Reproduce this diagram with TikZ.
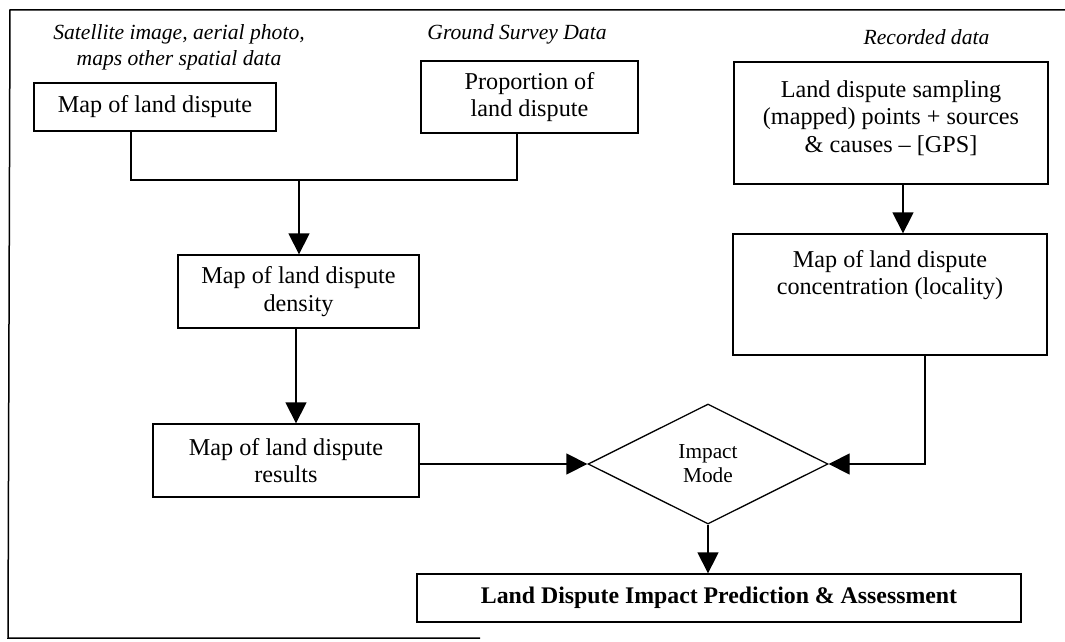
\documentclass[tikz,border=0pt]{standalone}
\usepackage{fontspec}
\setmainfont{Liberation Serif}
\usetikzlibrary{arrows.meta,shapes.geometric}
\begin{document}
\begin{tikzpicture}[x=1pt,y=-1pt,
  box/.style={draw, line width=1.3pt, inner sep=0pt, align=center,
    font=\fontsize{24.2}{27.5}\selectfont},
  lbl/.style={align=center, inner sep=0pt, font=\fontsize{21.6}{26}\selectfont\itshape},
  txt/.style={align=center, inner sep=0pt, font=\fontsize{24.2}{27.5}\selectfont},
  conn/.style={line width=1.3pt},
  arr/.style={line width=1.3pt, -{Triangle[width=21pt,length=21pt]}}]
\useasboundingbox (0,0) rectangle (1065,642);
% frame
\draw[line width=1.5pt] (1065,10) -- (10,10) -- (8,638) -- (480,638);
% labels
\node[lbl] (l1) at (179,47) {Satellite image, aerial photo,\\maps other spatial data};
\node[lbl] (l2) at (517,34) {Ground Survey Data};
\node[lbl] (l3) at (926.5,37) {Recorded data};
% boxes
\node[box, minimum width=242pt, minimum height=48pt] (b1) at (155,107) {Map of land dispute};
\node[box, minimum width=217pt, minimum height=72pt] (b2) at (529.5,97) {Proportion of\\land dispute};
\node[box, minimum width=314pt, minimum height=122pt] (b3) at (891,123) {};
\node[txt] (b3t) at (891,118) {Land dispute sampling\\(mapped) points + sources\\\& causes -- [GPS]};
\node[box, minimum width=314pt, minimum height=121pt] (b4) at (890,294.5) {};
\node[txt] (b4t) at (890,275) {Map of land dispute\\concentration (locality)};
\node[box, minimum width=241pt, minimum height=73pt] (b5) at (298.5,291.5) {Map of land dispute\\density};
\node[box, minimum width=266pt, minimum height=73pt] (b6) at (286,460.5) {Map of land dispute\\results};
\node[draw, diamond, line width=1.3pt, inner sep=0pt, minimum width=240pt, minimum height=120pt,
  align=center, font=\fontsize{21.3}{24}\selectfont] (d) at (708,464) {Impact\\Mode};
\node[box, minimum width=604pt, minimum height=48pt,
  font=\fontsize{23.8}{27}\selectfont\bfseries] (b7) at (719,598) {Land Dispute Impact Prediction \& Assessment};
% connectors
\coordinate (j) at (299,180);
\draw[conn] ([xshift=-24pt]b1.south) |- (j) -| ([xshift=-12.5pt]b2.south);
\draw[arr] (j) -- (j |- b5.north);
\draw[arr] ([xshift=-2.5pt]b5.south) -- ([xshift=-2.5pt]b5.south |- b6.north);
\draw[arr] (b6.east |- d.west) -- (d.west);
\draw[arr] ([xshift=12pt]b3.south) -- ([xshift=12pt]b3.south |- b4.north);
\draw[arr] ([xshift=35pt]b4.south) |- (d.east);
\draw[arr] (d.south) -- (d.south |- b7.north);
\end{tikzpicture}
\end{document}
